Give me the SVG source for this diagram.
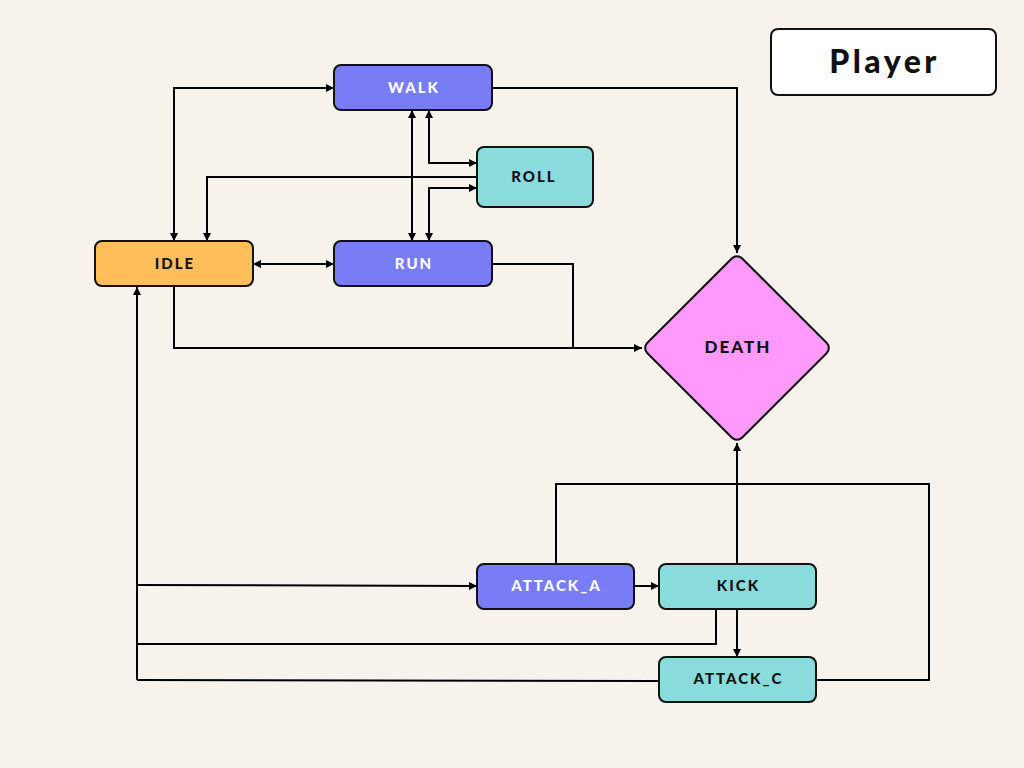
<svg xmlns="http://www.w3.org/2000/svg" width="1024" height="768" viewBox="0 0 1024 768">
<defs>
<marker id="ah" viewBox="0 0 10 10" refX="10" refY="5" markerWidth="8" markerHeight="8" markerUnits="userSpaceOnUse" orient="auto-start-reverse">
<path d="M0,0 L10,5 L0,10 Z" fill="#000"/>
</marker>
<style>
.n{stroke:#111;stroke-width:2}
.blue{fill:#787cf5}
.cyan{fill:#8adcdc}
.t{font-family:Lato,"Noto Sans",sans-serif;font-weight:900;font-size:15px;letter-spacing:2px;text-anchor:middle;dominant-baseline:central}
.w{fill:#fff}
.k{fill:#111}
.c path{fill:none;stroke:#000;stroke-width:2}
</style>
</defs>
<rect width="1024" height="768" fill="#f7f3ec"/>
<g class="c">
<path d="M174,241 V88 H334" marker-start="url(#ah)" marker-end="url(#ah)"/>
<path d="M477,177 H207 V241" marker-end="url(#ah)"/>
<path d="M412,110 V241" marker-start="url(#ah)" marker-end="url(#ah)"/>
<path d="M429,110 V163 H477" marker-start="url(#ah)" marker-end="url(#ah)"/>
<path d="M429,241 V188 H477" marker-start="url(#ah)" marker-end="url(#ah)"/>
<path d="M253,264 H334" marker-start="url(#ah)" marker-end="url(#ah)"/>
<path d="M492,88 H737 V253" marker-end="url(#ah)"/>
<path d="M492,264 H573 V348"/>
<path d="M174,286 V348 H642" marker-end="url(#ah)"/>
<path d="M137,680 V287" marker-end="url(#ah)"/>
<path d="M137,585 L477,586" marker-end="url(#ah)"/>
<path d="M716,609 V644 H137"/>
<path d="M659,681 L137,680"/>
<path d="M634,586 H659" marker-end="url(#ah)"/>
<path d="M737,564 V443" marker-end="url(#ah)"/>
<path d="M737,609 V657" marker-end="url(#ah)"/>
<path d="M556,564 V484 H929 V680 H816"/>
</g>
<g id="player">
<rect x="771" y="29" width="225" height="66" rx="7" fill="#fff" class="n"/>
<text x="884.5" y="60" class="t k" style="font-size:32px;letter-spacing:3.5px">Player</text>
</g>
<g id="walk">
<rect x="334" y="65" width="158" height="45" rx="7" class="n blue"/>
<text x="414" y="86.5" class="t w">WALK</text>
</g>
<g id="roll">
<rect x="477" y="147" width="116" height="60" rx="7" class="n cyan"/>
<text x="534" y="176" class="t k">ROLL</text>
</g>
<g id="idle">
<rect x="95" y="241" width="158" height="45" rx="7" class="n" fill="#ffbe5a"/>
<text x="175" y="263" class="t k">IDLE</text>
</g>
<g id="run">
<rect x="334" y="241" width="158" height="45" rx="7" class="n blue"/>
<text x="414" y="263" class="t w">RUN</text>
</g>
<g id="death">
<rect x="670" y="281" width="134" height="134" rx="7" class="n" fill="#ff99fc" transform="rotate(45 737 348)"/>
<text x="738" y="346" class="t k" style="font-size:17px">DEATH</text>
</g>
<g id="attack_a">
<rect x="477" y="564" width="157" height="45" rx="7" class="n blue"/>
<text x="556.5" y="585" class="t w">ATTACK_A</text>
</g>
<g id="kick">
<rect x="659" y="564" width="157" height="45" rx="7" class="n cyan"/>
<text x="738.5" y="585" class="t k">KICK</text>
</g>
<g id="attack_c">
<rect x="659" y="657" width="157" height="45" rx="7" class="n cyan"/>
<text x="738.5" y="678" class="t k">ATTACK_C</text>
</g>
</svg>
